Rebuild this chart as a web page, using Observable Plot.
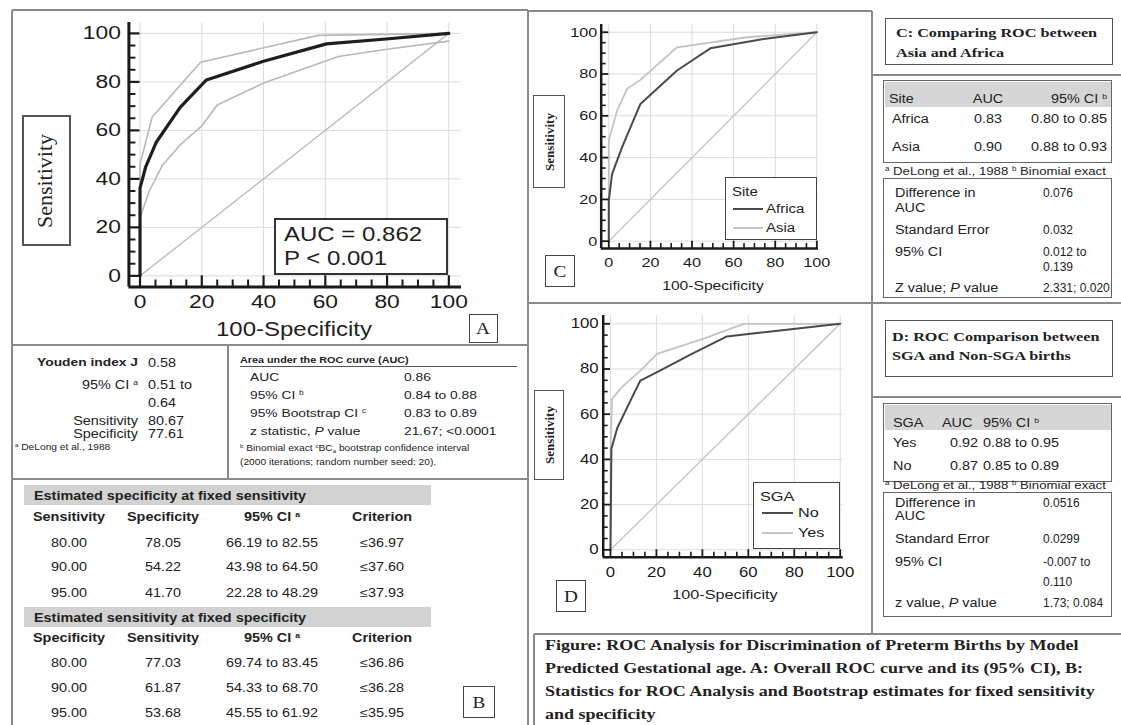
<!DOCTYPE html>
<html><head><meta charset="utf-8">
<script src="https://cdn.jsdelivr.net/npm/d3@7"></script>
<script src="https://cdn.jsdelivr.net/npm/@observablehq/plot@0.6"></script>
<style>
body{margin:0;background:#fff;}
#page{position:relative;width:1121px;height:725px;overflow:hidden;background:#fff;font-family:"Liberation Sans",Arial,sans-serif;color:#222;}
.t{position:absolute;white-space:nowrap;line-height:1;transform-origin:0 50%;}
.t sup{font-size:0.6em;vertical-align:0.55em;line-height:0;}
.chart{position:absolute;}
</style></head><body><div id="page"></div>
<script>
// ---------------- DATA ----------------
const ticksMajor = [0, 20, 40, 60, 80, 100];
const ticksMinor = [5, 10, 15, 25, 30, 35, 45, 50, 55, 65, 70, 75, 85, 90, 95];
const diagFpr = [0, 100];
const diagSens = [0, 100];

// Panel A: overall ROC curve and its 95% CI
const rocA_fpr  = [0, 0, 1.8, 5.2, 13, 21.5, 40, 60.4, 80.6, 100];
const rocA_sens = [0, 36.2, 44.8, 55, 69.5, 80.8, 88.5, 95.7, 97.8, 100];
const ciUpA_fpr  = [0, 0, 3.9, 19.6, 57.7, 100];
const ciUpA_sens = [0, 46, 65.4, 88.1, 99.2, 100];
const ciLoA_fpr  = [0, 0, 3, 7.2, 13, 20.1, 25, 40, 59.9, 64.2, 80, 100];
const ciLoA_sens = [0, 24, 35, 45.5, 54, 62, 70.5, 79.5, 88.5, 90.5, 93.5, 96.8];

// Panel C: by site
const africa_fpr  = [0, 0, 1.6, 6.4, 15.2, 32.8, 48.8, 74.4, 100];
const africa_sens = [0, 19.5, 32.2, 45, 65.7, 81.7, 92.3, 96.8, 100];
const asia_fpr  = [0, 0, 4, 8.8, 15.2, 32.8, 66.4, 100];
const asia_sens = [0, 48.2, 62.5, 72.9, 77.2, 92.8, 97.6, 100];

// Panel D: by SGA
const sgaNo_fpr  = [0, 0.4, 3, 8.7, 13, 20.3, 35, 50.7, 60.9, 100];
const sgaNo_sens = [0, 44.7, 54, 66, 74.9, 78.6, 86.5, 94.4, 95.6, 100];
const sgaYes_fpr  = [0, 0, 0.7, 5, 13, 20.3, 40.6, 58, 100];
const sgaYes_sens = [0, 45, 66.8, 72, 79.3, 86.7, 93.4, 100, 100];

// Panel B tables
const youdenLabels = ["Youden index J", "95% CI <sup>a</sup>", "", "Sensitivity", "Specificity"];
const youdenValues = ["0.58", "0.51 to", "0.64", "80.67", "77.61"];
const aucLabels = ["AUC", "95% CI <sup>b</sup>", "95% Bootstrap CI <sup>c</sup>", "z statistic, <i>P</i> value"];
const aucValues = ["0.86", "0.84 to 0.88", "0.83 to 0.89", "21.67; &lt;0.0001"];
const fixedSensHead = ["Sensitivity", "Specificity", "95% CI <sup>a</sup>", "Criterion"];
const fixedSensRows = [["80.00", "78.05", "66.19 to 82.55", "≤36.97"],
                       ["90.00", "54.22", "43.98 to 64.50", "≤37.60"],
                       ["95.00", "41.70", "22.28 to 48.29", "≤37.93"]];
const fixedSpecHead = ["Specificity", "Sensitivity", "95% CI <sup>a</sup>", "Criterion"];
const fixedSpecRows = [["80.00", "77.03", "69.74 to 83.45", "≤36.86"],
                       ["90.00", "61.87", "54.33 to 68.70", "≤36.28"],
                       ["95.00", "53.68", "45.55 to 61.92", "≤35.95"]];

// Panel C tables
const siteHead = ["Site", "AUC", "95% CI <sup>b</sup>"];
const siteRows = [["Africa", "0.83", "0.80 to 0.85"], ["Asia", "0.90", "0.88 to 0.93"]];
const siteDiffLabels = ["Difference in", "AUC", "Standard Error", "95% CI", "", "Z value; <i>P</i> value"];
const siteDiffValues = ["0.076", "", "0.032", "0.012 to", "0.139", "2.331; 0.020"];

// Panel D tables
const sgaHead = ["SGA", "AUC", "95% CI <sup>b</sup>"];
const sgaRows = [["Yes", "0.92", "0.88 to 0.95"], ["No", "0.87", "0.85 to 0.89"]];
const sgaDiffLabels = ["Difference in", "AUC", "Standard Error", "95% CI", "", "z value, <i>P</i> value"];
const sgaDiffValues = ["0.0516", "", "0.0299", "-0.007 to", "0.110", "1.73; 0.084"];

const captionLines = [
  "Figure: ROC Analysis for Discrimination of Preterm Births by Model",
  "Predicted Gestational age. A: Overall ROC curve and its (95% CI), B:",
  "Statistics for ROC Analysis and Bootstrap estimates for fixed sensitivity",
  "and specificity"
];

// ---------------- HELPERS ----------------
const page = document.getElementById("page");
const SX = 1.2;
const SANS = '"Liberation Sans", Arial, Helvetica, sans-serif';
const SERIF = '"Liberation Serif", "Times New Roman", Times, serif';

function T(x, y, html, o = {}) {
  const {size = 12, anchor = 0, bold = false, serif = false, sx = SX, color = "#222", rotate = 0} = o;
  const d = document.createElement("div");
  d.className = "t";
  Object.assign(d.style, {left: x + "px", top: y + "px", fontSize: size + "px",
    fontWeight: bold ? "bold" : "normal", fontFamily: serif ? SERIF : SANS, color});
  if (rotate) {
    d.style.transformOrigin = "0 0";
    d.style.transform = `rotate(${rotate}deg) scaleX(${sx}) translate(-50%,-50%)`;
  } else {
    d.style.transform = `scaleX(${sx}) translate(${-anchor * 100}%, -50%)`;
  }
  d.innerHTML = html;
  page.appendChild(d);
}
function R(x1, y1, x2, y2, o = {}) {
  const {bw = 1.5, color = "#555", bg = "#fff"} = o;
  const d = document.createElement("div");
  Object.assign(d.style, {position: "absolute", left: x1 + "px", top: y1 + "px",
    width: (x2 - x1) + "px", height: (y2 - y1) + "px",
    border: bw ? `${bw}px solid ${color}` : "none", boxSizing: "border-box", background: bg});
  page.appendChild(d);
}
function L(x1, y1, x2, y2, o = {}) {
  const {w = 1.5, color = "#8a8a8a"} = o;
  const d = document.createElement("div");
  d.style.position = "absolute";
  d.style.background = color;
  if (y1 === y2) Object.assign(d.style, {left: x1 + "px", top: (y1 - w / 2) + "px", width: (x2 - x1) + "px", height: w + "px"});
  else Object.assign(d.style, {left: (x1 - w / 2) + "px", top: y1 + "px", width: w + "px", height: (y2 - y1) + "px"});
  page.appendChild(d);
}
const tbl = (xs, ys) => xs.map((x, i) => ({x, y: ys[i]}));

function stretchText(svg, s) {
  svg.querySelectorAll("text").forEach(t => {
    const tf = t.getAttribute("transform") || "";
    const x = t.getAttribute("x");
    if (x != null && x !== "") t.setAttribute("x", (+x) / s);
    t.setAttribute("transform", (tf + ` scale(${s},1)`).trim());
  });
}

function rocChart(c) {
  const ink = "#1a1a1a";
  const x0 = c.xdom[0], y0 = c.ydom[0];
  const fw = c.width - c.ml - c.mr, fh = c.height - c.mt - c.mb;
  const majLenX = (0 - y0) / (c.ydom[1] - y0) * fh;   // x-axis major ticks reach the zero line
  const majLenY = (0 - x0) / (c.xdom[1] - x0) * fw;   // y-axis major ticks reach the zero line
  const marks = [
    Plot.ruleX(ticksMajor, {x: d => d, stroke: "#dcdcdc", strokeWidth: 1}),
    Plot.ruleY(ticksMajor, {y: d => d, stroke: "#dcdcdc", strokeWidth: 1}),
    ...c.series.map(s => Plot.line(tbl(s.x, s.y), {x: "x", y: "y", stroke: s.color, strokeWidth: s.width, strokeLinejoin: "round"})),
    // x-axis ticks pointing up from the axis line
    Plot.ruleX(ticksMajor, {x: d => d, insetTop: fh - majLenX, stroke: ink, strokeWidth: c.majW}),
    Plot.ruleX(ticksMinor, {x: d => d, insetTop: fh - c.minLen, stroke: ink, strokeWidth: c.minW}),
    // y-axis ticks pointing right from the axis line
    Plot.ruleY(ticksMajor, {y: d => d, insetRight: fw - majLenY, stroke: ink, strokeWidth: c.majW}),
    Plot.ruleY(ticksMinor, {y: d => d, insetRight: fw - c.minLen, stroke: ink, strokeWidth: c.minW}),
    Plot.ruleX([x0], {stroke: ink, strokeWidth: c.axisW}),
    Plot.ruleY([y0], {stroke: ink, strokeWidth: c.axisW})
  ];
  const svg = Plot.plot({
    width: c.width, height: c.height,
    marginLeft: c.ml, marginRight: c.mr, marginTop: c.mt, marginBottom: c.mb,
    x: {domain: c.xdom, ticks: ticksMajor, tickSize: 0, tickPadding: c.padX, label: null},
    y: {domain: c.ydom, ticks: ticksMajor, tickSize: 0, tickPadding: c.padY, label: null},
    style: {background: "transparent", overflow: "visible", fontSize: c.fontSize + "px",
      fontFamily: SANS, color: ink},
    marks
  });
  stretchText(svg, SX);
  const holder = document.createElement("div");
  holder.className = "chart";
  Object.assign(holder.style, {left: c.left + "px", top: c.top + "px", width: c.width + "px", height: c.height + "px"});
  holder.appendChild(svg);
  page.appendChild(holder);
}

// ---------------- FRAME LINES ----------------
L(12, 10, 528, 10);
L(12, 10, 12, 725);
L(528, 10, 528, 725);
L(12, 345, 528, 345);
L(228, 345, 228, 479);
L(12, 479, 528, 479);
L(528, 11, 872, 11);
L(872, 11, 872, 634);
L(528, 303, 1121, 303);
L(872, 75, 1121, 75);
L(872, 397, 1121, 397);
L(534, 634, 1121, 634);
L(534, 634, 534, 725);

// ---------------- CHARTS ----------------
const darkLine = "#4a4a4a", lightLine = "#c4c4c4";
rocChart({left: 20, top: 12, width: 500, height: 330, ml: 108.4, mr: 59, mt: 10, mb: 55.5,
  xdom: [-3.6, 104.1], ydom: [-4.6, 104.5], fontSize: 19, padX: 8, padY: 8,
  axisW: 3, majW: 2.2, minW: 2, minLen: 7,
  series: [
    {x: diagFpr, y: diagSens, color: "#bdbdbd", width: 1.4},
    {x: ciUpA_fpr, y: ciUpA_sens, color: "#b8b8b8", width: 1.6},
    {x: ciLoA_fpr, y: ciLoA_sens, color: "#b8b8b8", width: 1.6},
    {x: rocA_fpr, y: rocA_sens, color: "#1e1e1e", width: 3.2}
  ]});

rocChart({left: 560, top: 15, width: 268, height: 263, ml: 40.7, mr: 10, mt: 9, mb: 30,
  xdom: [-3.65, 100.8], ydom: [-3.5, 103.7], fontSize: 13.5, padX: 9, padY: 4,
  axisW: 2.5, majW: 1.8, minW: 1.6, minLen: 5,
  series: [
    {x: diagFpr, y: diagSens, color: "#c4c4c4", width: 1.3},
    {x: asia_fpr, y: asia_sens, color: lightLine, width: 1.8},
    {x: africa_fpr, y: africa_sens, color: darkLine, width: 2}
  ]});

rocChart({left: 560, top: 305, width: 293, height: 282, ml: 42.7, mr: 10.3, mt: 10, mb: 30.3,
  xdom: [-3.17, 101.3], ydom: [-3.27, 103.67], fontSize: 14, padX: 10, padY: 4.5,
  axisW: 2.5, majW: 1.8, minW: 1.6, minLen: 5,
  series: [
    {x: diagFpr, y: diagSens, color: "#c4c4c4", width: 1.3},
    {x: sgaYes_fpr, y: sgaYes_sens, color: lightLine, width: 1.8},
    {x: sgaNo_fpr, y: sgaNo_sens, color: darkLine, width: 2}
  ]});

// ---------------- PANEL A overlays ----------------
T(294, 329.4, "100-Specificity", {size: 20, anchor: 0.5});
R(22.3, 115, 70.6, 246, {bw: 2, color: "#555"});
T(45, 180.5, "Sensitivity", {size: 22, serif: true, rotate: -90, sx: 1});
R(273.6, 218, 447.6, 275.3, {bw: 2, color: "#333"});
T(284, 233.8, "AUC = 0.862", {size: 20});
T(284, 257.8, "P &lt; 0.001", {size: 20});
R(469, 313.5, 497.6, 343, {bw: 1.5, color: "#444"});
T(483.3, 328.5, "A", {size: 16, serif: true, anchor: 0.5});

// ---------------- PANEL B ----------------
const yRowsY = [362.6, 385, 403, 421, 434];
youdenLabels.forEach((s, i) => { if (s) T(138, yRowsY[i], s, {size: i === 0 ? 11.5 : 12, bold: i === 0, anchor: 1}); });
youdenValues.forEach((s, i) => T(147.6, yRowsY[i], s, {size: 12}));
T(15, 446.5, "<sup>a</sup> DeLong et al., 1988", {size: 8.5});

T(240, 360, "Area under the ROC curve (AUC)", {size: 9, bold: true});
L(240, 366, 517, 366, {w: 1, color: "#555"});
const aucY = [378, 396, 414, 432];
aucLabels.forEach((s, i) => T(250, aucY[i], s, {size: 11.5}));
aucValues.forEach((s, i) => T(403.7, aucY[i], s, {size: 11.5}));
T(240, 448.5, "<sup>b</sup> Binomial exact <sup>c</sup>BC<sub style='font-size:0.6em'>a</sub> bootstrap confidence interval", {size: 8.5});
T(240, 462, "(2000 iterations; random number seed: 20).", {size: 8.5});

const colX = [69, 163, 272, 382];
function fixedBlock(bandTop, title, head, rows, headY, rowYs) {
  R(23.6, bandTop, 430.7, bandTop + 20, {bw: 0, bg: "#d2d2d2"});
  T(34, bandTop + 11, title, {size: 12, bold: true});
  head.forEach((s, j) => T(colX[j], headY, s, {size: 12, bold: true, anchor: 0.5}));
  rows.forEach((r, i) => r.forEach((s, j) => T(colX[j], rowYs[i], s, {size: 12, anchor: 0.5})));
}
fixedBlock(485, "Estimated specificity at fixed sensitivity", fixedSensHead, fixedSensRows, 517, [542.5, 567, 592.5]);
fixedBlock(607, "Estimated sensitivity at fixed specificity", fixedSpecHead, fixedSpecRows, 638, [663.4, 688, 713]);
R(463, 686, 495, 718, {bw: 1.5, color: "#444"});
T(479, 702.5, "B", {size: 16, serif: true, anchor: 0.5});

// ---------------- PANEL C overlays ----------------
T(713, 285, "100-Specificity", {size: 13, anchor: 0.5});
R(533, 95, 565, 188, {bw: 1.5, color: "#555"});
T(549, 141.5, "Sensitivity", {size: 13, bold: true, serif: true, rotate: -90, sx: 1});
R(725, 177, 817, 240, {bw: 1.5, color: "#444"});
T(732, 192, "Site", {size: 12.5});
L(733, 209.3, 763, 209.3, {w: 2, color: darkLine});
L(733, 227.7, 763, 227.7, {w: 2, color: lightLine});
T(766, 209.3, "Africa", {size: 12.5});
T(766, 227.7, "Asia", {size: 12.5});
R(545, 255, 575, 287, {bw: 1.5, color: "#444"});
T(560, 271.5, "C", {size: 16, serif: true, anchor: 0.5});

// C tables
R(885, 18, 1113, 65, {bw: 1.5, color: "#555"});
T(896, 33, "C: Comparing ROC between", {size: 13.5, bold: true, serif: true});
T(896, 53, "Asia and Africa", {size: 13.5, bold: true, serif: true});
R(883, 80, 1112, 163, {bw: 1.5, color: "#666"});
R(884.5, 81.5, 1110.5, 107, {bw: 0, bg: "#d6d6d6"});
T(889, 99, siteHead[0], {size: 12});
T(988, 99, siteHead[1], {size: 12, anchor: 0.5});
T(1107, 99, siteHead[2], {size: 12, anchor: 1});
const siteY = [119, 147];
siteRows.forEach((r, i) => {
  T(892, siteY[i], r[0], {size: 12});
  T(988, siteY[i], r[1], {size: 12, anchor: 0.5});
  T(1107, siteY[i], r[2], {size: 12, anchor: 1});
});
T(885, 171, "<sup>a</sup> DeLong et al., 1988 <sup>b</sup> Binomial exact", {size: 11});
R(883, 178, 1112, 298, {bw: 1.5, color: "#666"});
const cDiffY = [193, 208, 230, 252, 267, 288];
siteDiffLabels.forEach((s, i) => { if (s) T(895, cDiffY[i], s, {size: 12}); });
siteDiffValues.forEach((s, i) => { if (s) T(1043, cDiffY[i], s, {size: 12, sx: 1.0}); });

// ---------------- PANEL D overlays ----------------
T(725, 595, "100-Specificity", {size: 13.5, anchor: 0.5});
R(534, 390, 564, 480, {bw: 1.5, color: "#555"});
T(549, 435, "Sensitivity", {size: 13, bold: true, serif: true, rotate: -90, sx: 1});
R(753, 482, 840, 549, {bw: 1.5, color: "#444"});
T(760, 497, "SGA", {size: 13.5});
L(762, 513.3, 793, 513.3, {w: 2, color: darkLine});
L(762, 533.3, 793, 533.3, {w: 2, color: lightLine});
T(798, 513.3, "No", {size: 13.5});
T(798, 533.3, "Yes", {size: 13.5});
R(556, 580, 586, 612, {bw: 1.5, color: "#444"});
T(571, 596.5, "D", {size: 16, serif: true, anchor: 0.5});

// D tables
R(885, 320, 1113, 377, {bw: 1.5, color: "#555"});
T(892, 337, "D: ROC Comparison between", {size: 13.5, bold: true, serif: true});
T(892, 356, "SGA and Non-SGA births", {size: 13.5, bold: true, serif: true});
R(883, 403, 1112, 482, {bw: 1.5, color: "#666"});
R(884.5, 404.5, 1110.5, 430, {bw: 0, bg: "#d6d6d6"});
T(893, 423, sgaHead[0], {size: 12});
T(942, 423, sgaHead[1], {size: 12});
T(983, 423, sgaHead[2], {size: 12});
const sgaY = [443, 466];
sgaRows.forEach((r, i) => {
  T(893, sgaY[i], r[0], {size: 12});
  T(950, sgaY[i], r[1], {size: 12});
  T(983, sgaY[i], r[2], {size: 12});
});
T(885, 484.5, "<sup>a</sup> DeLong et al., 1988 <sup>b</sup> Binomial exact", {size: 11});
R(883, 492, 1112, 617, {bw: 1.5, color: "#666"});
const dDiffY = [503, 516, 539, 562, 582, 603];
sgaDiffLabels.forEach((s, i) => { if (s) T(895, dDiffY[i], s, {size: 12}); });
sgaDiffValues.forEach((s, i) => { if (s) T(1043, dDiffY[i], s, {size: 12, sx: 1.0}); });

// ---------------- CAPTION ----------------
const capY = [645, 668, 691, 714];
captionLines.forEach((s, i) => T(545, capY[i], s, {size: 15, bold: true, serif: true}));
</script></body></html>
